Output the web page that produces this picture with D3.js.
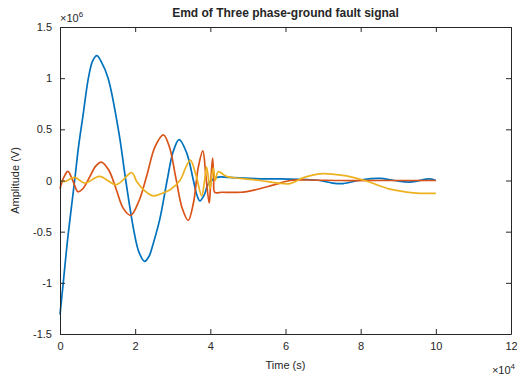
<!DOCTYPE html>
<html lang="en">
<head>
<meta charset="UTF-8">
<title>EMD</title>
<style>
  body { margin: 0; background: #fff; }
  text { font-family: "Liberation Sans", Arial, sans-serif; fill: #262626; }
</style>
</head>
<body>
<div id="chart"></div>
<script src="https://d3js.org/d3.v7.min.js"></script>
<script>
// values: time in units of 1e4, amplitude in units of 1e6
var imf1 = [[0,-1.31],[0.1,-0.95],[0.21,-0.55],[0.39,0],[0.5,0.35],[0.61,0.63],[0.76,1.01],[0.87,1.17],[0.98,1.22],
    [1.1,1.16],[1.28,1.0],[1.57,0.46],[1.75,0],[1.97,-0.5],[2.1,-0.7],[2.25,-0.79],[2.37,-0.74],[2.47,-0.63],
    [2.66,-0.37],[2.85,0],[3.01,0.28],[3.17,0.40],[3.37,0.27],[3.55,0],[3.64,-0.14],[3.72,-0.2],[3.84,-0.14],
    [3.95,-0.03],[4.17,0.03],[4.5,0.03],[5.05,0.02],[5.85,0.015],[6.56,0.01],[6.91,0],[7.25,-0.025],[7.53,-0.03],
    [8.07,0.01],[8.51,0.02],[8.9,0],[9.31,-0.015],[9.84,0.015],[10,0]];
var imf2 = [[0,-0.08],[0.1,0.03],[0.21,0.09],[0.34,0],[0.48,-0.11],[0.63,-0.07],[0.79,0.035],[0.95,0.14],[1.1,0.18],
    [1.3,0.1],[1.49,-0.08],[1.68,-0.27],[1.88,-0.34],[2.1,-0.2],[2.31,0.05],[2.53,0.33],[2.75,0.445],[2.91,0.33],
    [3.08,0.03],[3.25,-0.27],[3.41,-0.39],[3.55,-0.22],[3.68,0.13],[3.8,0.29],[3.88,0.05],[3.97,-0.22],[4.01,-0.02],
    [4.06,0.22],[4.09,0.03],[4.12,-0.115],[4.3,-0.115],[4.8,-0.115],[5.2,-0.09],[5.67,-0.045],[6.12,0],[6.56,0.005],
    [7.5,0],[8.5,0],[10,0]];
var imf3 = [[0,0],[0.12,-0.01],[0.39,0.03],[0.66,-0.025],[1.05,0.04],[1.5,-0.04],[1.91,0.076],[2.04,-0.01],
    [2.25,-0.1],[2.48,-0.15],[2.75,-0.12],[2.93,-0.09],[3.19,0],[3.35,0.13],[3.47,0.2],[3.62,0.05],[3.77,-0.15],
    [3.84,-0.02],[3.9,0.13],[3.95,0.02],[3.99,-0.08],[4.04,0.05],[4.08,0.12],[4.13,0],[4.21,0.086],[4.43,0.04],
    [4.8,0.02],[5.32,0],[5.8,-0.025],[6.12,-0.03],[6.5,0.03],[6.91,0.065],[7.3,0.06],[7.62,0.045],[8.11,0],
    [8.78,-0.085],[9.4,-0.12],[10,-0.125]];
var seriesColors = ["#0072BD", "#D95319", "#EDB120"];
var xTicks = [0, 2, 4, 6, 8, 10, 12];
var yTicks = [-1.5, -1, -0.5, 0, 0.5, 1, 1.5];
var titleText = "Emd of Three phase-ground fault signal";
var xLabel = "Time (s)";
var yLabel = "Amplitude (V)";

var W = 517, H = 378;
var margin = {top: 27, right: 6, bottom: 44, left: 60},
    width = W - margin.left - margin.right,
    height = H - margin.top - margin.bottom;

var svg = d3.select("#chart").append("svg")
    .attr("width", W)
    .attr("height", H);
var g = svg.append("g")
    .attr("transform", `translate(${margin.left},${margin.top})`);

var x = d3.scaleLinear().domain([0, 12]).range([0, width]);
var y = d3.scaleLinear().domain([-1.5, 1.5]).range([height, 0]);

var line = d3.line()
    .x(function (d) { return x(d[0]); })
    .y(function (d) { return y(d[1]); })
    .curve(d3.curveCatmullRom.alpha(0.5));

g.selectAll(".imf")
    .data([imf1, imf2, imf3])
    .join("path")
    .attr("class", "imf")
    .attr("d", line)
    .attr("fill", "none")
    .attr("stroke", function (d, i) { return seriesColors[i]; })
    .attr("stroke-width", 1.7)
    .attr("stroke-linejoin", "round");

// axes, ticks pointing inward on all four sides
function styleAxis(sel) {
    sel.select(".domain").attr("stroke", "#262626");
    sel.selectAll(".tick line").attr("stroke", "#262626");
    sel.selectAll("text").attr("font-size", 11).attr("fill", "#262626")
        .attr("font-family", "Liberation Sans, Arial, sans-serif");
}
var fmt = function (d) { return String(d); };
g.append("g").attr("transform", `translate(0,${height})`)
    .call(d3.axisBottom(x).tickValues(xTicks).tickFormat(fmt).tickSizeInner(-5).tickSizeOuter(0).tickPadding(8))
    .call(styleAxis);
g.append("g")
    .call(d3.axisTop(x).tickValues(xTicks).tickFormat("").tickSizeInner(-5).tickSizeOuter(0))
    .call(styleAxis);
g.append("g")
    .call(d3.axisLeft(y).tickValues(yTicks).tickFormat(fmt).tickSizeInner(-5).tickSizeOuter(0).tickPadding(8))
    .call(styleAxis);
g.append("g").attr("transform", `translate(${width},0)`)
    .call(d3.axisRight(y).tickValues(yTicks).tickFormat("").tickSizeInner(-5).tickSizeOuter(0))
    .call(styleAxis);

// title and labels
svg.append("text")
    .attr("x", margin.left + width / 2).attr("y", 17)
    .attr("text-anchor", "middle").attr("font-size", 12).attr("font-weight", "bold")
    .text(titleText);
svg.append("text")
    .attr("x", margin.left + width / 2).attr("y", 369)
    .attr("text-anchor", "middle").attr("font-size", 11)
    .text(xLabel);
svg.append("text")
    .attr("transform", `translate(19,${margin.top + height / 2}) rotate(-90)`)
    .attr("text-anchor", "middle").attr("font-size", 11)
    .text(yLabel);

// exponent labels
var e1 = svg.append("text").attr("x", margin.left).attr("y", 22).attr("font-size", 11);
e1.append("tspan").text("\u00d710");
e1.append("tspan").attr("font-size", 8).attr("dy", -5).text("6");
var e2 = svg.append("text").attr("x", W - 2).attr("y", 374).attr("font-size", 11).attr("text-anchor", "end");
e2.append("tspan").text("\u00d710");
e2.append("tspan").attr("font-size", 8).attr("dy", -5).text("4");
</script>
</body>
</html>
